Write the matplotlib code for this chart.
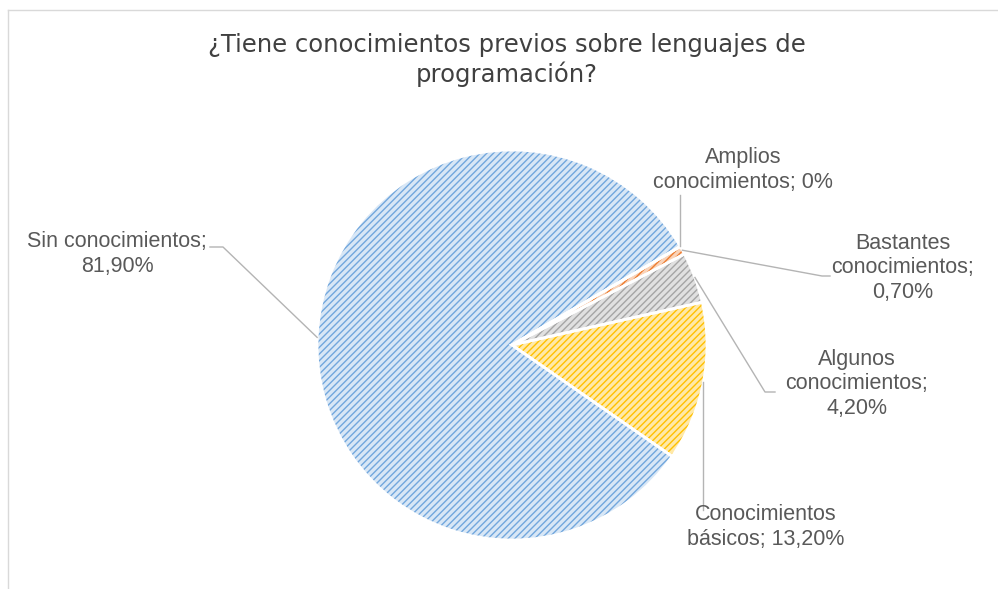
import numpy as np
import matplotlib.pyplot as plt
from matplotlib.lines import Line2D

# datos
categorias = ['Conocimientos básicos', 'Algunos conocimientos', 'Bastantes conocimientos',
              'Amplios conocimientos', 'Sin conocimientos']
valores = [13.2, 4.2, 0.7, 0.0, 81.9]
etiquetas = ['Conocimientos\nbásicos; 13,20%', 'Algunos\nconocimientos;\n4,20%',
             'Bastantes\nconocimientos;\n0,70%', 'Amplios\nconocimientos; 0%',
             'Sin conocimientos;\n81,90%']
titulo = '¿Tiene conocimientos previos sobre lenguajes de\nprogramación?'

fondo = ['#ffe9a8', '#e0e0e0', '#f9d3b9', '#f9d3b9', '#d8e7f6']
rayas = ['#ffc000', '#a5a5a5', '#ed7d31', '#ed7d31', '#72a7dd']

W, H = 998, 589
CX, CY, R = 512, 345, 195

plt.rcParams['hatch.linewidth'] = 1.0
fig = plt.figure(figsize=(W / 100, H / 100), dpi=100)
ax = fig.add_axes([(CX - R) / W, (H - CY - R) / H, 2 * R / W, 2 * R / H])

inicio = 12.7 - 360 * valores[0] / 100
wedges, _ = ax.pie(valores, startangle=inicio, colors=fondo, radius=1,
                   wedgeprops=dict(linewidth=0))
for w, c in zip(wedges, rayas):
    w.set_hatch('/////')
    w.set_edgecolor(c)
ax.pie(valores, startangle=inicio, radius=1,
       wedgeprops=dict(fill=False, edgecolor='white', linewidth=2))
ax.set_xlim(-1, 1)
ax.set_ylim(-1, 1)
ax.axis('off')


def px(x, y):
    return ((x - CX) / R, (CY - y) / R)


def borde(w, frac=0.5):
    a = np.deg2rad(w.theta1 + (w.theta2 - w.theta1) * frac)
    return (np.cos(a), np.sin(a))


# posiciones de etiquetas (pixeles) y codos de las lineas guia
pos = [(766, 527), (857, 384), (903, 268), (743, 170), (117, 254)]
codos = [[(None, 510)], [(765, 392), (775, 392)], [(822, 276), (830, 276)],
         [(None, 195)], [(223, 247), (210, 247)]]

gris_linea = '#b4b4b4'
for w, txt, p, cd in zip(wedges, etiquetas, pos, codos):
    x0, y0 = borde(w)
    xs, ys = [x0], [y0]
    for cx, cy in cd:
        if cx is None:
            xs.append(x0)
            ys.append(px(0, cy)[1])
        else:
            dx, dy = px(cx, cy)
            xs.append(dx)
            ys.append(dy)
    ax.plot(xs, ys, color=gris_linea, lw=1, clip_on=False)
    tx, ty = px(*p)
    ax.text(tx, ty, txt, ha='center', va='center', fontsize=15.5,
            family=['Liberation Sans', 'DejaVu Sans'], color='#595959', linespacing=1.2)

fig.text(507 / W, 1 - 60 / H, titulo, ha='center', va='center', fontsize=17.5,
         family=['DejaVu Sans'], color='#404040', linespacing=1.25)

# marco del grafico
fig.add_artist(Line2D([8 / W, 8 / W], [0, 1 - 10 / H], color='#d9d9d9', lw=1))
fig.add_artist(Line2D([8 / W, 1], [1 - 10 / H, 1 - 10 / H], color='#d9d9d9', lw=1))

fig.savefig('out.png', dpi=100)
